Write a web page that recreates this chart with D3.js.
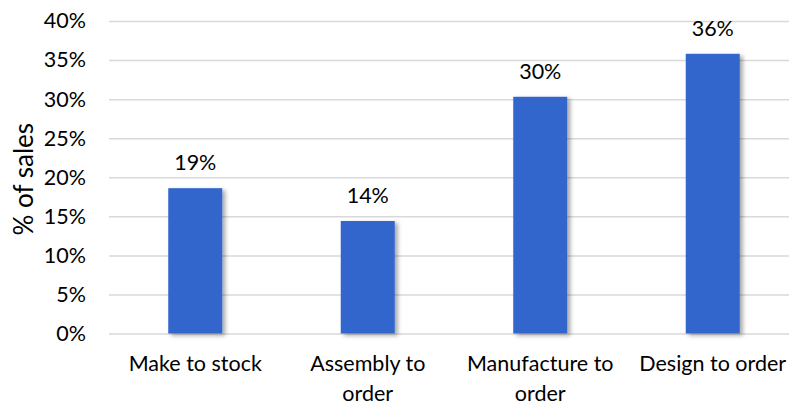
<!DOCTYPE html>
<html>
<head>
<meta charset="utf-8">
<script src="https://cdn.jsdelivr.net/npm/d3@7"></script>
<style>
  html, body { margin: 0; padding: 0; background: #fff; }
  svg { display: block; font-family: Lato, "Open Sans", sans-serif; }
</style>
</head>
<body>
<svg id="chart" width="789" height="405"></svg>
<script>
const categories = ["Make to stock", "Assembly to order", "Manufacture to order", "Design to order"];
const values = [18.6, 14.4, 30.3, 35.8];
const yTicks = [0, 5, 10, 15, 20, 25, 30, 35, 40];
const yTitle = "% of sales";

(function () {
const svg = d3.select("#chart");
const pLeft = 109, pRight = 799, pTop = 21, pBottom = 333.5;
const fs = "21.5px";

const x = d3.scaleBand().domain(categories).range([pLeft, pRight])
  .paddingInner(0.687).paddingOuter(0.3435);
const y = d3.scaleLinear().domain([0, 40]).range([pBottom, pTop]);

const defs = svg.append("defs");
const f = defs.append("filter").attr("id", "shadow")
  .attr("x", "-20%").attr("y", "-10%").attr("width", "150%").attr("height", "130%");
f.append("feDropShadow").attr("dx", 3).attr("dy", 2).attr("stdDeviation", 2)
  .attr("flood-color", "#000").attr("flood-opacity", 0.35);

// gridlines
const yAxis = d3.axisLeft(y).tickValues(yTicks).tickSize(-(pRight - pLeft))
  .tickFormat(d => d + "%").tickPadding(23);
const gy = svg.append("g").attr("transform", `translate(${pLeft},0)`).call(yAxis);
gy.select(".domain").remove();
gy.selectAll(".tick line").attr("stroke", "#d9d9d9").attr("stroke-width", 1.5);
gy.selectAll(".tick text").attr("fill", "#000").style("font-size", fs)
  .style("font-family", "Lato, 'Open Sans', sans-serif");

// bars
svg.append("g").selectAll("rect").data(values).join("rect")
  .attr("x", (d, i) => x(categories[i]))
  .attr("width", x.bandwidth())
  .attr("y", d => y(d))
  .attr("height", d => y(0) - y(d))
  .attr("fill", "#3366cc")
  .attr("filter", "url(#shadow)");

// data labels
svg.append("g").selectAll("text").data(values).join("text")
  .attr("x", (d, i) => x(categories[i]) + x.bandwidth() / 2)
  .attr("y", d => y(d) - 18)
  .attr("text-anchor", "middle")
  .style("font-size", fs)
  .text(d => Math.round(d) + "%");

// x labels with wrapping
function wrapWords(s, maxChars) {
  const words = s.split(" ");
  const lines = [];
  let cur = "";
  words.forEach(w => {
    const t = cur ? cur + " " + w : w;
    if (t.length > maxChars && cur) { lines.push(cur); cur = w; } else cur = t;
  });
  if (cur) lines.push(cur);
  return lines;
}
const xl = svg.append("g").selectAll("text").data(categories).join("text")
  .attr("x", d => x(d) + x.bandwidth() / 2)
  .attr("y", 371)
  .attr("text-anchor", "middle")
  .style("font-size", fs);
xl.each(function(d) {
  const lines = wrapWords(d, 15);
  const t = d3.select(this);
  lines.forEach((ln, i) => {
    t.append("tspan").attr("x", x(d) + x.bandwidth() / 2).attr("dy", i === 0 ? 0 : 29.5).text(ln);
  });
});

// y title
svg.append("text")
  .attr("transform", `translate(33,${(pTop + pBottom) / 2 + 2}) rotate(-90)`)
  .attr("text-anchor", "middle")
  .style("font-size", "26px")
  .text(yTitle);
})();
</script>
</body>
</html>
